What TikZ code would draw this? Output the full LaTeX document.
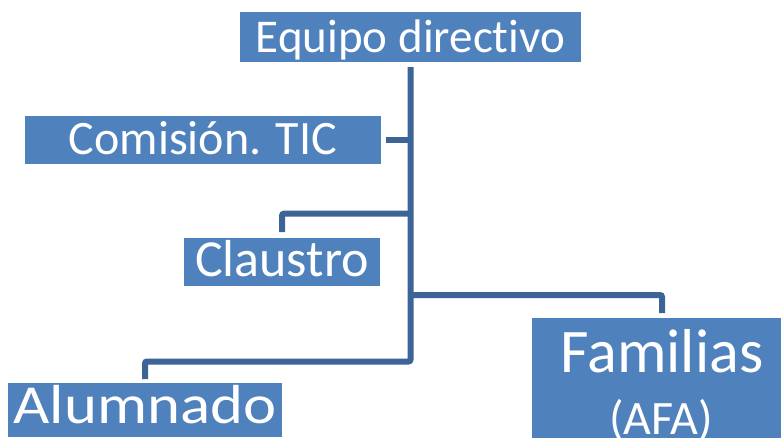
\documentclass[tikz,border=0pt]{standalone}
\usepackage{fontspec}
\setmainfont{Carlito}[Ligatures=NoCommon, Contextuals=NoAlternate]
\definecolor{boxblue}{HTML}{4F81BD}
\definecolor{lineblue}{HTML}{3C6496}
\tikzset{
  orgbox/.style={fill=boxblue, text=white, inner sep=0pt, outer sep=0pt, anchor=north west},
  conn/.style={draw=lineblue, line width=6pt, rounded corners=2pt, line cap=butt}
}
\begin{document}
\begin{tikzpicture}[x=1pt, y=-1pt]
\path[use as bounding box, clip] (0,0) rectangle (781,437);
% boxes
\node[orgbox, minimum width=341pt, minimum height=50pt, text height=40pt, text depth=10pt,
      font=\fontsize{47}{47}\selectfont] (eq) at (240,12) {Equipo directivo};
\node[orgbox, minimum width=356pt, minimum height=46pt, text height=38pt, text depth=10pt,
      font=\fontsize{48}{48}\selectfont] (com) at (25,116) {Comisión. TIC};
\node[orgbox, minimum width=196pt, minimum height=40pt, text height=38pt, text depth=10pt,
      font=\fontsize{52}{52}\selectfont] (cla) at (184,238) {Claustro};
\node[orgbox, minimum width=274pt, minimum height=54pt, text height=34pt, text depth=8pt,
      font=\fontsize{55}{55}\selectfont] (alu) at (8,383) {\scalebox{1.14}[1]{Alumnado}};
\node[orgbox, minimum width=260pt, minimum height=120pt, text height=20pt, text depth=32pt,
      font=\fontsize{62}{62}\selectfont] (fam) at (532,318) {Familias};
\node[text=white, inner sep=0pt, anchor=base, font=\fontsize{48}{48}\selectfont] (afa) at (661,434) {(AFA)};
% junctions on the spine
\coordinate (top) at ([yshift=-5pt]eq.south);
\coordinate (j1) at (top |- com.east);
\coordinate (j2) at (top |- 0,213.7);
\coordinate (j3) at (top |- 0,295);
\coordinate (j4) at (top |- 0,361.5);
% connectors
\draw[conn] (top) -- (j4) -| ([yshift=4pt]alu.north);
\draw[conn] (j1) -- ([xshift=5pt]com.east);
\draw[conn] (j2) -| ([yshift=6pt]cla.north);
\draw[conn] (j3) -| ([yshift=5pt]fam.north);
\end{tikzpicture}
\end{document}
